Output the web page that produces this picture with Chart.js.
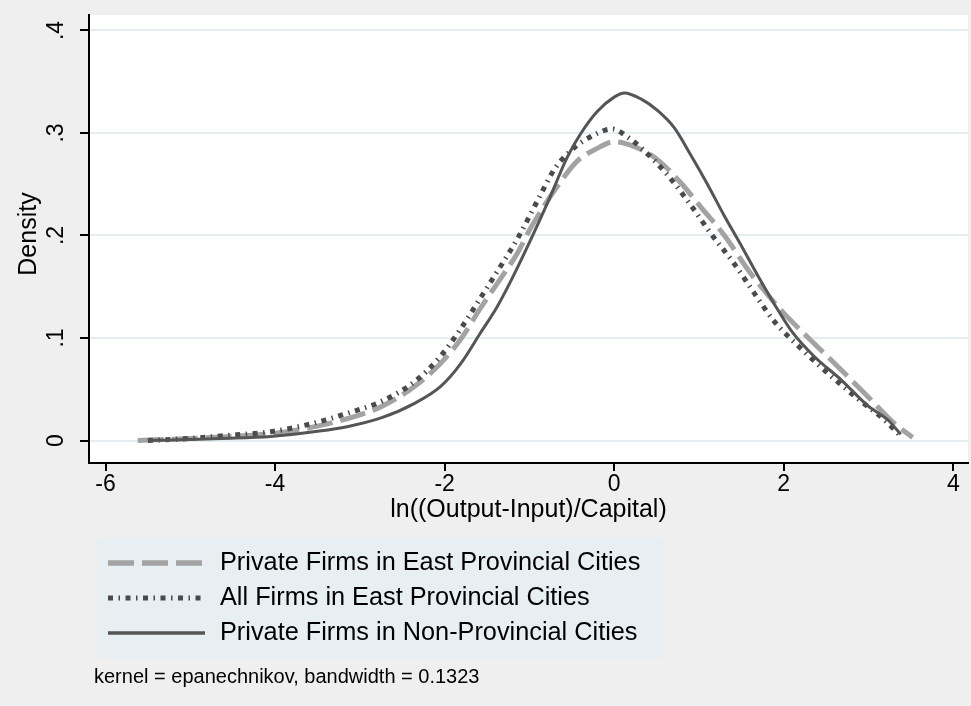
<!DOCTYPE html>
<html>
<head>
<meta charset="utf-8">
<script src="https://cdn.jsdelivr.net/npm/chart.js@4"></script>
<style>
  html, body { margin: 0; padding: 0; background: #efefef; }
  #wrap { width: 971px; height: 706px; }
</style>
</head>
<body>
<div id="wrap"><canvas id="canvas" width="971" height="706"></canvas></div>
<script>
const xTicks = [-6, -4, -2, 0, 2, 4]
const yTicks = [0, 0.1, 0.2, 0.3, 0.4]
const yTickLabels = ['0', '.1', '.2', '.3', '.4']
const xTitle = 'ln((Output-Input)/Capital)'
const yTitle = 'Density'
const note = 'kernel = epanechnikov, bandwidth = 0.1323'
const seriesNames = [
    'Private Firms in East Provincial Cities',
    'All Firms in East Provincial Cities',
    'Private Firms in Non-Provincial Cities'
]

// Private firms, east provincial cities (light dashed)
const eastPrivX = [-5.62, -5, -4.5, -4, -3.5, -3, -2.75, -2.36, -2.05, -1.8, -1.57, -1.34, -1.14, -0.98, -0.67, -0.43, -0.2, 0, 0.24, 0.51, 0.79, 1.02, 1.3, 1.61, 1.97, 2.28, 2.64, 2.99, 3.3, 3.52]
const eastPrivY = [0, 0.002, 0.004, 0.007, 0.014, 0.025, 0.033, 0.0525, 0.075, 0.1, 0.13, 0.158, 0.183, 0.208, 0.248, 0.273, 0.285, 0.2915, 0.2866, 0.274, 0.251, 0.228, 0.2, 0.163, 0.127, 0.101, 0.072, 0.043, 0.017, 0.003]

// All firms, east provincial cities (dark dash-dot)
const eastAllX = [-5.5, -5, -4.64, -4.05, -3.54, -3.15, -2.75, -2.36, -2.05, -1.81, -1.57, -1.34, -1.14, -0.9, -0.71, -0.51, -0.24, -0.02, 0.16, 0.35, 0.63, 0.9, 1.14, 1.42, 1.65, 1.89, 2.2, 2.52, 2.87, 3.19, 3.36]
const eastAllY = [0, 0.002, 0.0044, 0.0086, 0.017, 0.0265, 0.038, 0.057, 0.082, 0.109, 0.14, 0.17, 0.197, 0.2346, 0.264, 0.283, 0.298, 0.304, 0.296, 0.283, 0.259, 0.23, 0.202, 0.172, 0.144, 0.116, 0.09, 0.0656, 0.041, 0.02, 0.006]

// Private firms, non-provincial cities (solid)
const nonProvX = [-5.5, -5, -4.64, -4.05, -3.5, -3.15, -2.75, -2.36, -2.05, -1.81, -1.58, -1.38, -1.18, -0.79, -0.55, -0.39, -0.2, 0, 0.12, 0.32, 0.51, 0.71, 0.9, 1.1, 1.3, 1.5, 1.7, 1.89, 2.09, 2.36, 2.68, 2.99, 3.23, 3.38]
const nonProvY = [0, 0.001, 0.002, 0.004, 0.009, 0.0135, 0.022, 0.036, 0.0525, 0.075, 0.1046, 0.1305, 0.162, 0.231, 0.277, 0.3, 0.321, 0.335, 0.339, 0.333, 0.322, 0.305, 0.279, 0.25, 0.219, 0.19, 0.16, 0.133, 0.107, 0.082, 0.059, 0.034, 0.02, 0.006]

const toPoints = (xs, ys) => xs.map((x, i) => ({ x: x, y: ys[i] }))

const FONT = "'Liberation Sans', Arial, sans-serif"

const styles = [
    { color: '#a3a3a3', width: 5, legendWidth: 5.5, dash: [26, 8] },
    { color: '#4a4a4a', width: 5, legendWidth: 5, dash: [5, 5.5, 1.5, 5.5] },
    { color: '#555555', width: 3, legendWidth: 3.5, dash: [] }
]

const framePlugin = {
    id: 'frame',
    beforeDraw(chart) {
        const ctx = chart.ctx
        const a = chart.chartArea
        ctx.save()
        ctx.fillStyle = '#efefef'
        ctx.fillRect(0, 0, chart.width, chart.height)
        ctx.fillStyle = '#ffffff'
        ctx.fillRect(a.left, a.top, a.right - a.left, a.bottom - a.top)
        ctx.restore()
    },
    afterDraw(chart) {
        const ctx = chart.ctx
        const a = chart.chartArea
        const ys = chart.scales.y
        ctx.save()
        ctx.fillStyle = '#000'

        // y tick labels, rotated like the original
        ctx.font = '23px ' + FONT
        ctx.textAlign = 'center'
        ctx.textBaseline = 'middle'
        yTicks.forEach((v, i) => {
            ctx.save()
            ctx.translate(57, ys.getPixelForValue(v))
            ctx.rotate(-Math.PI / 2)
            ctx.fillText(yTickLabels[i], 0, 0)
            ctx.restore()
        })

        // axis titles
        ctx.font = '25px ' + FONT
        ctx.save()
        ctx.translate(29, 234)
        ctx.rotate(-Math.PI / 2)
        ctx.fillText(yTitle, 0, 0)
        ctx.restore()
        ctx.fillText(xTitle, (a.left + a.right) / 2, 510)

        // legend
        ctx.fillStyle = '#e8eff2'
        ctx.fillRect(97, 538, 566, 120)
        const rows = [563, 598, 633]
        rows.forEach((ry, i) => {
            const s = styles[i]
            ctx.save()
            ctx.strokeStyle = s.color
            ctx.lineWidth = s.legendWidth
            ctx.setLineDash(s.dash)
            ctx.beginPath()
            ctx.moveTo(108, ry)
            ctx.lineTo(205, ry)
            ctx.stroke()
            ctx.restore()
            ctx.fillStyle = '#000'
            ctx.textAlign = 'left'
            ctx.font = '25.3px ' + FONT
            ctx.fillText(seriesNames[i], 220, ry)
        })

        ctx.font = '20px ' + FONT
        ctx.textAlign = 'left'
        ctx.fillText(note, 94, 677)
        ctx.restore()
    }
}

const canvas = document.getElementById('canvas')
new Chart(canvas, {
    type: 'line',
    data: {
        datasets: [
            {
                label: seriesNames[2],
                data: toPoints(nonProvX, nonProvY),
                borderColor: styles[2].color,
                borderWidth: styles[2].width,
                order: 0
            },
            {
                label: seriesNames[1],
                data: toPoints(eastAllX, eastAllY),
                borderColor: styles[1].color,
                borderWidth: styles[1].width,
                borderDash: styles[1].dash,
                order: 1
            },
            {
                label: seriesNames[0],
                data: toPoints(eastPrivX, eastPrivY),
                borderColor: styles[0].color,
                borderWidth: styles[0].width,
                borderDash: styles[0].dash,
                order: 2
            }
        ]
    },
    options: {
        responsive: false,
        animation: false,
        events: [],
        layout: { padding: { top: 15, right: 3, left: 0, bottom: 0 } },
        elements: {
            point: { radius: 0 },
            line: { cubicInterpolationMode: 'monotone', fill: false, borderCapStyle: 'butt' }
        },
        scales: {
            x: {
                type: 'linear',
                min: -6.1947,
                max: 4.1735,
                afterBuildTicks: (scale) => { scale.ticks = xTicks.map(v => ({ value: v })) },
                afterFit: (scale) => { scale.height = 243 },
                grid: { drawOnChartArea: false, tickColor: '#000', tickLength: 8, lineWidth: 2 },
                border: { display: true, color: '#000', width: 2 },
                ticks: {
                    color: '#000',
                    padding: 0,
                    maxRotation: 0,
                    font: { family: FONT, size: 23 },
                    callback: (v) => String(v)
                }
            },
            y: {
                type: 'linear',
                min: -0.02195,
                max: 0.41512,
                afterBuildTicks: (scale) => { scale.ticks = yTicks.map(v => ({ value: v })) },
                afterFit: (scale) => { scale.width = 89 },
                grid: { color: '#e4edf1', tickColor: '#000', tickLength: 9, lineWidth: 2 },
                border: { display: true, color: '#000', width: 2 },
                ticks: { display: false }
            }
        },
        plugins: {
            legend: { display: false },
            tooltip: { enabled: false }
        }
    },
    plugins: [framePlugin]
})
</script>
</body>
</html>
